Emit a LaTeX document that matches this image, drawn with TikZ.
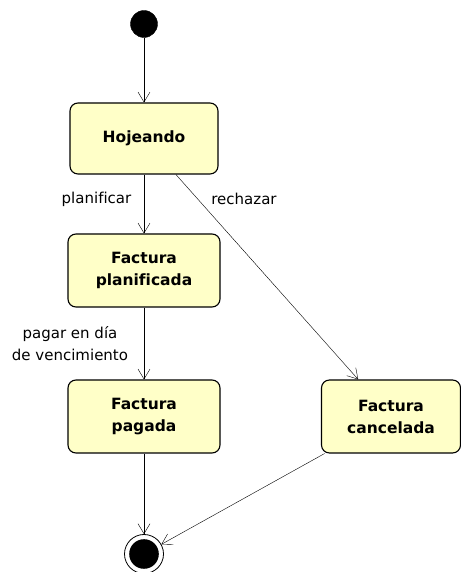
\documentclass[tikz,border=0pt]{standalone}
\usepackage{fontspec}
\setmainfont[Ligatures=NoCommon]{DejaVu Sans}
\usetikzlibrary{arrows.meta,positioning}
\definecolor{statefill}{RGB}{255,255,200}
\tikzset{
    estado/.style = {rectangle,rounded corners=8pt,fill=statefill,draw=black,line width=1.1pt,text=black,
                     align=center,minimum width=152pt,minimum height=73pt,
                     font=\fontsize{15.5}{22}\selectfont\bfseries},
    inicio/.style = {circle,fill=black,draw=black,inner sep=0pt,minimum size=27pt},
    fin/.style    = {circle,draw=black,line width=0.8pt,fill=white,inner sep=0pt,minimum size=39pt,
                     path picture={\fill[black] (path picture bounding box.center) circle (14.8pt);}},
    etiq/.style   = {align=center,text=black,font=\fontsize{15}{22}\selectfont},
    >={Straight Barb[length=10pt,width=12pt]},line width=0.7pt
}
\begin{document}
\begin{tikzpicture}[x=1pt,y=1pt,->]
        \useasboundingbox (0,0) rectangle (460,572);

        %% Estados
        \node[inicio]  (ini)  at (144,548)    {};
        \node[estado,minimum width=148pt,minimum height=71pt]  (hoj) [below of=ini,node distance=114.5pt]    {Hojeando};
        \node[estado]  (plan) [below of=hoj,node distance=132pt]    {Factura\\planificada};
        \node[estado]  (pag)  [below of=plan,node distance=146pt]   {Factura\\pagada};
        \node[estado,minimum width=139pt]  (canc) [right of=pag,node distance=247pt]    {Factura\\cancelada};
        \node[fin]     (fin)  [below of=pag,node distance=137.5pt]  {};

        %% Etiquetas
        \node[etiq]  (tplan) at (96.5,373)  {planificar};
        \node[etiq]  (trech) at (244,373)   {rechazar};
        \node[etiq]  (tpag)  at (70,228)    {pagar en día\\de vencimiento};

        %% Transiciones
        \path   (ini)  edge []   node {} (hoj)
                (hoj)  edge []   node {} (plan)
                (plan) edge []   node {} (pag)
                (hoj)  edge []   node {} (canc)
                (pag)  edge []   node {} (fin)
                (canc) edge []   node {} (fin);
\end{tikzpicture}
\end{document}
